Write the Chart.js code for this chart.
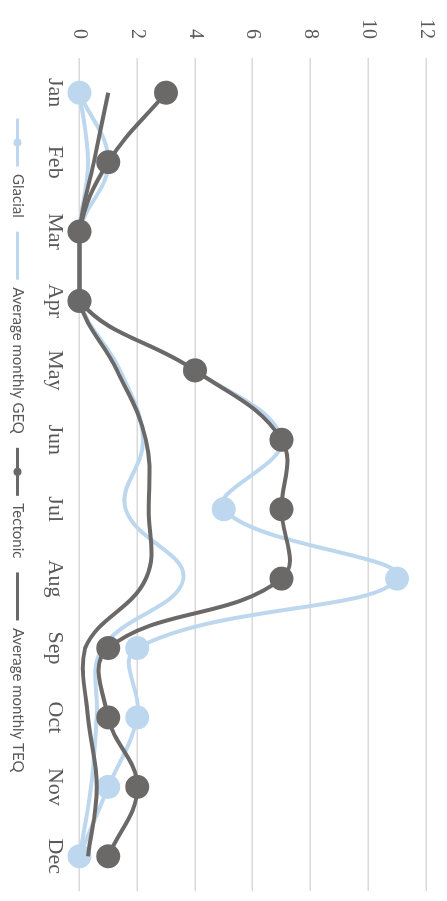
<!DOCTYPE html>
<html>
<head>
<meta charset="utf-8">
<script src="https://cdn.jsdelivr.net/npm/chart.js@4"></script>
<style>
  html, body { margin: 0; padding: 0; background: #fff; overflow: hidden; }
  #wrap {
    position: absolute; left: 0; top: 0;
    width: 901px; height: 447px;
    transform-origin: 0 0;
    transform: translate(447px, 0) rotate(90deg);
  }
</style>
</head>
<body>
<div id="wrap"><canvas id="miGrafico" width="901" height="447"></canvas></div>
<script>
// datos
const meses = ['Jan', 'Feb', 'Mar', 'Apr', 'May', 'Jun', 'Jul', 'Aug', 'Sep', 'Oct', 'Nov', 'Dec'];
const glacial = [0, 1, 0, 0, 4, 7, 5, 11, 2, 2, 1, 0];
const mediaGEQ = [0, 0.3, 0, 0, 1.4, 2.2, 1.6, 3.6, 0.8, 0.6, 0.4, 0];
const tectonic = [3, 1, 0, 0, 4, 7, 7, 7, 1, 1, 2, 1];
const mediaTEQ = [1, 0.5, 0, 0, 1.3, 2.3, 2.4, 2.3, 0.2, 0.3, 0.6, 0.3];
const ticksY = [0, 2, 4, 6, 8, 10, 12];

const azul = '#BDD7EE';
const gris = '#6B6868';

// pone un puntito en la leyenda de las series con marcadores
const puntosLeyenda = {
  id: 'puntosLeyenda',
  afterDraw(chart) {
    const leg = chart.legend;
    if (!leg || !leg.legendHitBoxes) return;
    const c = chart.ctx;
    leg.legendItems.forEach((item, i) => {
      const ds = chart.data.datasets[item.datasetIndex];
      if (!ds.pointRadius) return;
      const hb = leg.legendHitBoxes[i];
      const bw = leg.options.labels.boxWidth;
      c.save();
      c.fillStyle = ds.borderColor;
      c.beginPath();
      c.arc(hb.left + bw / 2, hb.top + hb.height / 2, 4, 0, Math.PI * 2);
      c.fill();
      c.restore();
    });
  }
};

const ctx = document.getElementById('miGrafico').getContext('2d');

new Chart(ctx, {
  type: 'line',
  data: {
    labels: meses,
    datasets: [
      {
        label: 'Glacial',
        data: glacial,
        borderColor: azul,
        backgroundColor: azul,
        borderWidth: 4,
        pointRadius: 10,
        pointHoverRadius: 10,
        tension: 0.4,
        clip: false,
        order: 2
      },
      {
        label: 'Average monthly GEQ',
        data: mediaGEQ,
        borderColor: azul,
        backgroundColor: azul,
        borderWidth: 4,
        pointRadius: 0,
        tension: 0.4,
        clip: false,
        order: 3
      },
      {
        label: 'Tectonic',
        data: tectonic,
        borderColor: gris,
        backgroundColor: gris,
        borderWidth: 4,
        pointRadius: 10,
        pointHoverRadius: 10,
        tension: 0.4,
        clip: false,
        order: 0
      },
      {
        label: 'Average monthly TEQ',
        data: mediaTEQ,
        borderColor: gris,
        backgroundColor: gris,
        borderWidth: 4,
        pointRadius: 0,
        tension: 0.4,
        clip: false,
        order: 1
      }
    ]
  },
  options: {
    responsive: false,
    animation: false,
    layout: {
      autoPadding: false,
      padding: { left: 0, right: 10, top: 0, bottom: 0 }
    },
    plugins: {
      legend: {
        position: 'bottom',
        labels: {
          font: { family: 'Lato', size: 15 },
          color: '#595959',
          boxWidth: 48,
          boxHeight: 3,
          padding: 14,
          sort: (a, b) => a.datasetIndex - b.datasetIndex,
          generateLabels(chart) {
            const items = Chart.defaults.plugins.legend.labels.generateLabels(chart);
            items.forEach(it => { it.lineWidth = 0; });
            return items;
          }
        }
      },
      tooltip: { enabled: false }
    },
    scales: {
      x: {
        offset: true,
        grid: { display: false },
        border: { display: false },
        ticks: {
          font: { family: 'Liberation Serif', size: 22 },
          color: '#595959',
          padding: 3,
          maxRotation: 0
        }
      },
      y: {
        min: 0,
        max: 12,
        afterBuildTicks(axis) {
          axis.ticks = ticksY.map(v => ({ value: v }));
        },
        afterFit(axis) {
          axis.paddingTop = 21;
        },
        grid: { color: '#D9D9D9', lineWidth: 1.5, drawTicks: false },
        border: { display: false },
        ticks: {
          font: { family: 'Liberation Serif', size: 20 },
          color: '#595959',
          padding: 19
        }
      }
    }
  },
  plugins: [puntosLeyenda]
});
</script>
</body>
</html>
